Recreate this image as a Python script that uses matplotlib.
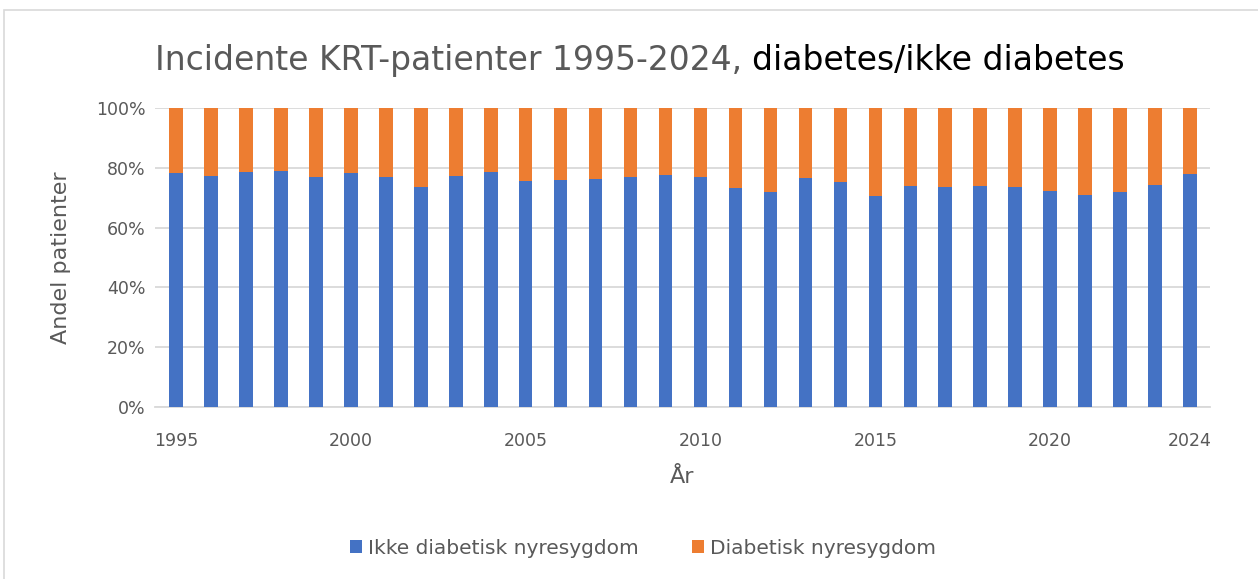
import numpy as np
import matplotlib
matplotlib.use("Agg")
from matplotlib import pyplot as plt
from matplotlib.patches import Rectangle

# data (percent)
years = list(range(1995, 2025))
ikke_diabetisk = [78.2, 77.2, 78.7, 78.9, 76.9, 78.2, 77.0, 73.7, 77.2, 78.6,
                  75.5, 75.9, 76.3, 76.8, 77.6, 76.8, 73.2, 71.8, 76.6, 75.4,
                  70.7, 74.0, 73.5, 73.9, 73.5, 72.1, 70.9, 71.9, 74.2, 77.9]
diabetisk = [100 - v for v in ikke_diabetisk]
tick_years = [1995, 2000, 2005, 2010, 2015, 2020, 2024]

BLUE = "#4472C4"
ORANGE = "#ED7D31"
GREY = "#595959"

plt.rcParams['font.family'] = ['DejaVu Sans']

fig = plt.figure(figsize=(12.58, 5.79), dpi=100)
W, H = 1258, 579

# light chart border
fig.patches.append(Rectangle((4 / W, -0.01), 1.0, 1 - 10 / H + 0.01,
                             transform=fig.transFigure, fill=False,
                             edgecolor="#d9d9d9", linewidth=1.2))

ax = fig.add_axes([155 / W, 1 - 407 / H, 1055 / W, 299 / H])
ax.bar(years, ikke_diabetisk, width=0.39, color=BLUE, label="Ikke diabetisk nyresygdom", zorder=3)
ax.bar(years, diabetisk, width=0.39, bottom=ikke_diabetisk, color=ORANGE,
       label="Diabetisk nyresygdom", zorder=3)

ax.set_xlim(1994.4, 2024.57)
ax.set_ylim(0, 100)
ax.set_yticks(np.arange(0, 101, 20))
ax.set_yticklabels([f"{v}%" for v in range(0, 101, 20)])
ax.set_xticks(tick_years)
ax.yaxis.grid(True, color="#d9d9d9", linewidth=1.3, zorder=0)
for s in ["top", "right", "left"]:
    ax.spines[s].set_visible(False)
ax.spines["bottom"].set_color("#d9d9d9")
ax.spines["bottom"].set_linewidth(1.3)
ax.tick_params(axis="both", length=0, labelsize=12.5, labelcolor=GREY)
ax.tick_params(axis="y", pad=7)
ax.tick_params(axis="x", pad=18)

ax.set_ylabel("Andel patienter", fontsize=16, color=GREY, labelpad=18)
ax.set_xlabel("År", fontsize=16, color=GREY, labelpad=12)

# two-colour title
renderer = fig.canvas.get_renderer()
t1 = fig.text(0, 1 - 70 / H, "Incidente KRT-patienter 1995-2024, ",
              fontsize=23.8, color=GREY, va="baseline")
t2 = fig.text(0, 1 - 70 / H, "diabetes/ikke diabetes",
              fontsize=23.8, color="black", va="baseline")
w1 = t1.get_window_extent(renderer).width / W
w2 = t2.get_window_extent(renderer).width / W
x0 = 640 / W - (w1 + w2) / 2
t1.set_x(x0)
t2.set_x(x0 + w1)

fig.legend(loc="center", bbox_to_anchor=(643 / W, 1 - 548 / H), ncol=2,
           frameon=False, fontsize=14.5, labelcolor=GREY, handlelength=0.6,
           handleheight=0.6, handletextpad=0.3, columnspacing=2.6)

fig.savefig("out.png", dpi=100)
